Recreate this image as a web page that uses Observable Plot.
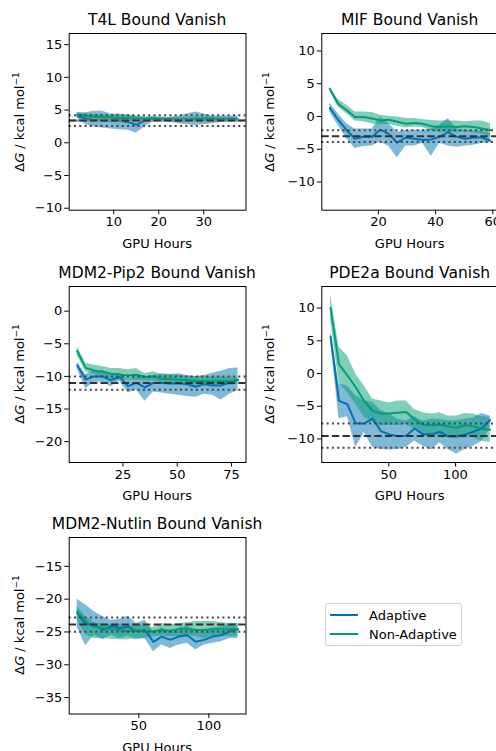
<!DOCTYPE html>
<html>
<head>
<meta charset="utf-8">
<script src="https://cdn.jsdelivr.net/npm/d3@7"></script>
<script src="https://cdn.jsdelivr.net/npm/@observablehq/plot@0.6"></script>
<style>
  html, body { margin: 0; padding: 0; background: #fff; overflow: hidden; }
  #chart { position: relative; width: 496px; height: 751px; overflow: hidden; font-family: "DejaVu Sans", sans-serif; color: #000; }
  #chart svg { position: absolute; }
  .ttl { position: absolute; transform: translate(-50%, -50%); font-size: 15.5px; white-space: nowrap; }
  .xl { position: absolute; transform: translate(-50%, -50%); font-size: 13px; white-space: nowrap; }
  .yl { position: absolute; transform: translate(-50%, -50%) rotate(-90deg); font-size: 13px; white-space: nowrap; }
  .yl sup { font-size: 9px; vertical-align: 0.45em; line-height: 0; }
  .legend { position: absolute; left: 325px; top: 603px; width: 137px; height: 43px; border: 1px solid #d0d0d0; border-radius: 3px; box-sizing: border-box; font-size: 13px; }
  .legend .row { position: absolute; left: 0; height: 16px; display: flex; align-items: center; }
  .legend .sw { display: inline-block; width: 28px; height: 2px; margin-left: 4px; margin-right: 11px; }
</style>
</head>
<body>
<div id="chart"></div>
<script>
// ---------------- data ----------------
const panelTitles = ["T4L Bound Vanish", "MIF Bound Vanish", "MDM2-Pip2 Bound Vanish", "PDE2a Bound Vanish", "MDM2-Nutlin Bound Vanish"];
const seriesNames = ["Adaptive", "Non-Adaptive"];

const t4lX = [1.9, 3.8, 5.6, 7.5, 9.4, 11.3, 13.2, 15.0, 16.9, 18.8, 20.7, 22.6, 24.4, 26.3, 28.2, 30.1, 32.0, 33.8, 35.7, 37.6];
const t4lAdaptive = [4.08, 3.67, 3.5, 3.4, 3.4, 3.37, 3.16, 2.75, 3.4, 3.57, 3.67, 3.57, 3.4, 3.4, 3.57, 3.67, 3.67, 3.57, 3.67, 3.57];
const t4lAdaptiveHi = [4.6, 4.6, 4.8, 4.8, 4.4, 4.4, 4.3, 4.1, 3.9, 3.8, 3.75, 3.9, 4.1, 4.4, 4.7, 4.4, 4.1, 4.1, 4.1, 4.1];
const t4lAdaptiveLo = [3.7, 2.75, 2.4, 2.25, 2.1, 2.0, 1.9, 1.5, 2.4, 3.2, 3.3, 3.1, 2.9, 2.75, 2.65, 2.75, 2.9, 3.1, 3.2, 3.2];
const t4lNonAdaptive = [4.34, 4.08, 3.98, 3.93, 3.88, 3.78, 3.78, 3.67, 3.67, 3.78, 3.67, 3.57, 3.57, 3.57, 3.67, 3.67, 3.67, 3.57, 3.57, 3.57];
const t4lNonAdaptiveHi = [4.6, 4.45, 4.35, 4.3, 4.25, 4.15, 4.1, 4.0, 3.95, 4.05, 3.95, 3.85, 3.85, 3.85, 3.95, 3.95, 3.95, 3.9, 3.9, 3.9];
const t4lNonAdaptiveLo = [4.0, 3.7, 3.6, 3.55, 3.5, 3.4, 3.4, 3.35, 3.4, 3.5, 3.4, 3.3, 3.25, 3.25, 3.35, 3.35, 3.35, 3.25, 3.2, 3.2];

const mifX = [3.0, 5.9, 8.9, 11.8, 14.8, 17.8, 20.7, 23.7, 26.6, 29.6, 32.6, 35.5, 38.5, 41.4, 44.4, 47.4, 50.3, 53.3, 56.2, 59.2];
const mifAdaptive = [1.3, -0.5, -2.1, -3.4, -3.1, -3.1, -2.0, -2.7, -4.0, -3.2, -3.4, -3.6, -3.5, -3.1, -2.4, -3.1, -3.4, -3.2, -3.2, -3.7];
const mifAdaptiveHi = [2.0, 0.4, -1.1, -1.9, -1.9, -1.9, -0.1, -1.1, -2.4, -2.1, -2.1, -2.1, -1.9, -1.35, -0.3, -1.9, -2.1, -2.2, -2.2, -2.6];
const mifAdaptiveLo = [0.7, -1.35, -3.4, -4.9, -4.6, -4.5, -3.9, -4.6, -6.3, -4.5, -4.5, -4.1, -6.1, -4.1, -4.5, -4.7, -4.5, -4.4, -4.1, -4.0];
const mifNonAdaptive = [4.24, 1.95, 0.94, -0.08, -0.08, -0.3, -0.6, -0.5, -0.8, -1.1, -1.0, -1.1, -1.5, -1.6, -1.5, -1.6, -1.5, -1.6, -1.85, -2.1];
const mifNonAdaptiveHi = [4.5, 2.6, 1.7, 0.7, 0.7, 0.6, 0.2, 0.0, -0.1, -0.3, -0.3, -0.5, -0.6, -0.7, -0.7, -0.7, -0.8, -0.7, -0.7, -1.1];
const mifNonAdaptiveLo = [3.9, 1.4, 0.4, -0.7, -0.8, -1.1, -1.3, -1.2, -1.5, -1.75, -1.6, -1.7, -2.2, -2.4, -2.4, -2.4, -2.4, -2.5, -2.7, -3.0];

const pip2X = [3.9, 7.8, 11.7, 15.6, 19.5, 23.4, 27.3, 31.2, 35.1, 39.0, 42.9, 46.8, 50.7, 54.6, 58.5, 62.4, 66.3, 70.2, 74.1, 78.0];
const pip2Adaptive = [-8.3, -10.5, -10.0, -10.0, -10.6, -10.1, -11.5, -11.0, -11.7, -11.0, -11.0, -11.1, -11.1, -11.2, -11.6, -11.2, -11.4, -11.4, -10.9, -10.5];
const pip2AdaptiveHi = [-7.8, -9.7, -9.1, -9.1, -9.6, -9.5, -10.4, -10.0, -10.2, -9.85, -9.6, -9.7, -9.6, -9.85, -10.0, -9.85, -9.5, -9.2, -8.8, -8.7];
const pip2AdaptiveLo = [-8.8, -11.9, -10.9, -10.9, -11.6, -10.7, -12.55, -12.1, -13.8, -12.4, -12.55, -12.75, -12.9, -13.1, -13.2, -12.75, -12.9, -13.6, -12.75, -12.2];
const pip2NonAdaptive = [-6.1, -8.7, -9.1, -9.3, -9.6, -9.7, -9.85, -9.75, -10.1, -10.0, -10.4, -10.4, -10.5, -10.6, -10.7, -10.7, -10.8, -10.7, -10.7, -10.6];
const pip2NonAdaptiveHi = [-5.4, -8.0, -8.3, -8.5, -8.8, -8.8, -9.0, -8.8, -9.6, -9.3, -9.75, -9.7, -9.85, -10.0, -10.0, -10.0, -10.1, -10.1, -10.1, -10.1];
const pip2NonAdaptiveLo = [-6.8, -9.3, -9.7, -10.1, -10.4, -10.5, -10.6, -10.6, -10.7, -10.7, -11.0, -11.0, -11.1, -11.2, -11.4, -11.4, -11.4, -11.4, -11.4, -11.2];

const pdeX = [6.3, 12.6, 18.9, 25.2, 31.5, 37.8, 44.1, 50.4, 56.7, 63.0, 69.3, 75.6, 81.9, 88.2, 94.5, 100.8, 107.1, 113.4, 119.7, 126.0];
const pdeAdaptive = [5.66, -4.18, -4.7, -7.65, -7.65, -6.9, -8.8, -9.3, -9.6, -9.5, -8.4, -9.3, -9.3, -8.9, -9.6, -9.6, -9.3, -8.9, -8.4, -7.1];
const pdeAdaptiveHi = [6.4, -1.6, -1.9, -3.4, -4.2, -4.4, -5.7, -6.2, -7.0, -7.2, -6.6, -7.3, -7.0, -7.0, -7.2, -7.2, -7.0, -6.8, -6.1, -6.5];
const pdeAdaptiveLo = [4.9, -6.9, -6.6, -11.3, -9.0, -11.3, -11.6, -11.7, -11.6, -11.3, -10.3, -11.1, -11.7, -10.6, -11.6, -12.3, -11.6, -11.1, -10.4, -8.5];
const pdeNonAdaptive = [10.0, 1.43, -0.3, -2.1, -4.2, -5.7, -6.1, -6.1, -6.0, -5.9, -7.0, -7.8, -7.9, -7.8, -8.1, -8.3, -7.9, -8.1, -8.4, -8.6];
const pdeNonAdaptiveHi = [12.0, 4.0, 2.7, -0.1, -1.9, -3.9, -4.2, -4.5, -4.2, -4.2, -5.5, -6.0, -6.2, -6.0, -6.5, -6.5, -6.1, -6.2, -6.6, -6.7];
const pdeNonAdaptiveLo = [8.3, -1.4, -2.9, -4.7, -6.7, -7.5, -8.0, -7.9, -7.9, -7.8, -8.5, -9.5, -9.6, -9.5, -9.8, -10.0, -9.5, -9.8, -10.3, -10.6];

const nutX = [6.0, 12.1, 18.1, 24.2, 30.2, 36.2, 42.3, 48.3, 54.4, 60.4, 66.4, 72.5, 78.5, 84.6, 90.6, 96.6, 102.7, 108.7, 114.8, 120.8];
const nutAdaptive = [-22.1, -23.8, -23.9, -24.7, -24.1, -24.4, -24.2, -24.9, -24.7, -26.5, -25.7, -26.2, -25.7, -25.5, -26.5, -26.2, -25.7, -25.5, -24.9, -24.6];
const nutAdaptiveHi = [-20.0, -20.9, -21.9, -22.65, -23.2, -23.1, -22.6, -23.7, -23.2, -24.95, -24.4, -24.95, -24.4, -24.1, -24.7, -24.7, -24.4, -24.2, -23.9, -23.7];
const nutAdaptiveLo = [-24.3, -27.1, -25.5, -26.2, -25.5, -26.0, -25.7, -26.2, -26.0, -28.0, -27.0, -27.5, -27.0, -26.7, -27.75, -27.0, -26.7, -26.5, -26.0, -26.0];
const nutNonAdaptive = [-21.9, -23.4, -24.2, -24.4, -24.6, -24.7, -24.9, -24.7, -24.9, -24.9, -24.7, -24.8, -24.6, -24.6, -24.7, -24.7, -24.6, -24.6, -24.6, -24.6];
const nutNonAdaptiveHi = [-21.1, -22.65, -23.6, -23.8, -23.9, -23.9, -24.1, -23.8, -24.1, -24.3, -23.7, -23.9, -23.7, -23.6, -23.4, -23.4, -23.4, -23.6, -23.7, -23.7];
const nutNonAdaptiveLo = [-23.2, -25.5, -26.0, -26.0, -26.1, -26.2, -26.2, -26.0, -26.0, -25.7, -25.6, -25.7, -25.7, -25.6, -25.7, -26.0, -25.7, -25.7, -25.7, -25.7];

// reference (expected) values and their bounds
const refExpected = [3.4, -3.0, -11.0, -9.55, -23.85];
const refUpper = [4.2, -2.1, -10.0, -7.65, -22.8];
const refLower = [2.55, -3.9, -12.05, -11.35, -24.95];

// axis ticks and domains
const xTicks = [[10, 20, 30], [20, 40, 60], [25, 50, 75], [50, 100], [50, 100]];
const yTicks = [[-10, -5, 0, 5, 10, 15], [-10, -5, 0, 5, 10], [-20, -15, -10, -5, 0], [-10, -5, 0, 5, 10], [-35, -30, -25, -20, -15]];
const xDomains = [[0.1, 39.4], [0.2, 62.0], [0.2, 81.7], [-0.3, 132.3], [0.3, 126.5]];
const yDomains = [[-10.3, 16.7], [-14.3, 12.66], [-23.2, 3.78], [-13.6, 13.3], [-37.5, -10.6]];

// ---------------- drawing ----------------
const BLUE = "#0173B2", GREEN = "#029E73";
const fmt = d => d < 0 ? "\u2212" + Math.abs(d) : String(d);

const panels = [
  {x: t4lX, a: t4lAdaptive, aHi: t4lAdaptiveHi, aLo: t4lAdaptiveLo, n: t4lNonAdaptive, nHi: t4lNonAdaptiveHi, nLo: t4lNonAdaptiveLo, col: 0, ft: 33.3, fb: 210, solid: true},
  {x: mifX, a: mifAdaptive, aHi: mifAdaptiveHi, aLo: mifAdaptiveLo, n: mifNonAdaptive, nHi: mifNonAdaptiveHi, nLo: mifNonAdaptiveLo, col: 1, ft: 33.3, fb: 210},
  {x: pip2X, a: pip2Adaptive, aHi: pip2AdaptiveHi, aLo: pip2AdaptiveLo, n: pip2NonAdaptive, nHi: pip2NonAdaptiveHi, nLo: pip2NonAdaptiveLo, col: 0, ft: 286, fb: 462},
  {x: pdeX, a: pdeAdaptive, aHi: pdeAdaptiveHi, aLo: pdeAdaptiveLo, n: pdeNonAdaptive, nHi: pdeNonAdaptiveHi, nLo: pdeNonAdaptiveLo, col: 1, ft: 286, fb: 462},
  {x: nutX, a: nutAdaptive, aHi: nutAdaptiveHi, aLo: nutAdaptiveLo, n: nutNonAdaptive, nHi: nutNonAdaptiveHi, nLo: nutNonAdaptiveLo, col: 0, ft: 537, fb: 713.5}
];

const cols = [
  {sx: 0, sw: 250, fl: 68.7, fr: 245.5},
  {sx: 250, sw: 262, fl: 321.3, fr: 498}
];

const chart = document.getElementById("chart");

panels.forEach((p, k) => {
  const c = cols[p.col];
  const rows = p.x.map((x, i) => ({x, a: p.a[i], aHi: p.aHi[i], aLo: p.aLo[i], n: p.n[i], nHi: p.nHi[i], nLo: p.nLo[i]}));
  const mt = 40, mb = 30;
  const sh = (p.fb - p.ft) + mt + mb;
  const marks = [
    Plot.areaY(rows, {x: "x", y1: "aLo", y2: "aHi", fill: BLUE, fillOpacity: 0.5}),
    Plot.areaY(rows, {x: "x", y1: "nLo", y2: "nHi", fill: GREEN, fillOpacity: 0.5}),
    Plot.lineY(rows, {x: "x", y: "a", stroke: BLUE, strokeWidth: 2}),
    Plot.lineY(rows, {x: "x", y: "n", stroke: GREEN, strokeWidth: 2})
  ];
  if (p.solid) marks.push(Plot.ruleY([refExpected[k]], {stroke: "#8a8a8a", strokeWidth: 2}));
  marks.push(
    Plot.ruleY([refExpected[k]], {stroke: "#333", strokeWidth: 2, strokeDasharray: "7.4,3.2"}),
    Plot.ruleY([refUpper[k], refLower[k]], {stroke: "#444", strokeWidth: 2, strokeDasharray: "2,3.3"}),
    Plot.frame({stroke: "#000", strokeWidth: 1}),
    Plot.axisX({ticks: xTicks[k], tickFormat: fmt, tickSize: 4.5, tickPadding: 2.5, label: null, stroke: "#000"}),
    Plot.axisY({ticks: yTicks[k], tickFormat: fmt, tickSize: 4.5, tickPadding: 2.5, label: null, stroke: "#000"})
  );
  const svg = Plot.plot({
    width: c.sw,
    height: sh,
    marginLeft: c.fl - c.sx,
    marginRight: c.sx + c.sw - c.fr,
    marginTop: mt,
    marginBottom: mb,
    style: {fontFamily: "DejaVu Sans, sans-serif", fontSize: "13px", color: "#000", background: "transparent", overflow: "visible"},
    x: {domain: xDomains[k]},
    y: {domain: yDomains[k]},
    marks
  });
  svg.style.left = c.sx + "px";
  svg.style.top = (p.ft - mt) + "px";
  chart.appendChild(svg);

  const cx = (c.fl + c.fr) / 2;
  const cy = (p.ft + p.fb) / 2;
  const t = document.createElement("div");
  t.className = "ttl"; t.textContent = panelTitles[k];
  t.style.left = cx + "px"; t.style.top = (p.ft - 13.5) + "px";
  chart.appendChild(t);

  const xl = document.createElement("div");
  xl.className = "xl"; xl.textContent = "GPU Hours";
  xl.style.left = cx + "px"; xl.style.top = (p.fb + 33) + "px";
  chart.appendChild(xl);

  const yl = document.createElement("div");
  yl.className = "yl";
  yl.innerHTML = "\u0394<i>G</i> / kcal mol<sup>\u22121</sup>";
  yl.style.left = (c.sx + 19) + "px"; yl.style.top = cy + "px";
  chart.appendChild(yl);
});

// legend
const lg = document.createElement("div");
lg.className = "legend";
[BLUE, GREEN].forEach((col, i) => {
  const r = document.createElement("div");
  r.className = "row";
  r.style.top = (3 + i * 19) + "px";
  const sw = document.createElement("span");
  sw.className = "sw"; sw.style.background = col;
  const tx = document.createElement("span");
  tx.textContent = seriesNames[i];
  r.appendChild(sw); r.appendChild(tx);
  lg.appendChild(r);
});
chart.appendChild(lg);
</script>
</body>
</html>
